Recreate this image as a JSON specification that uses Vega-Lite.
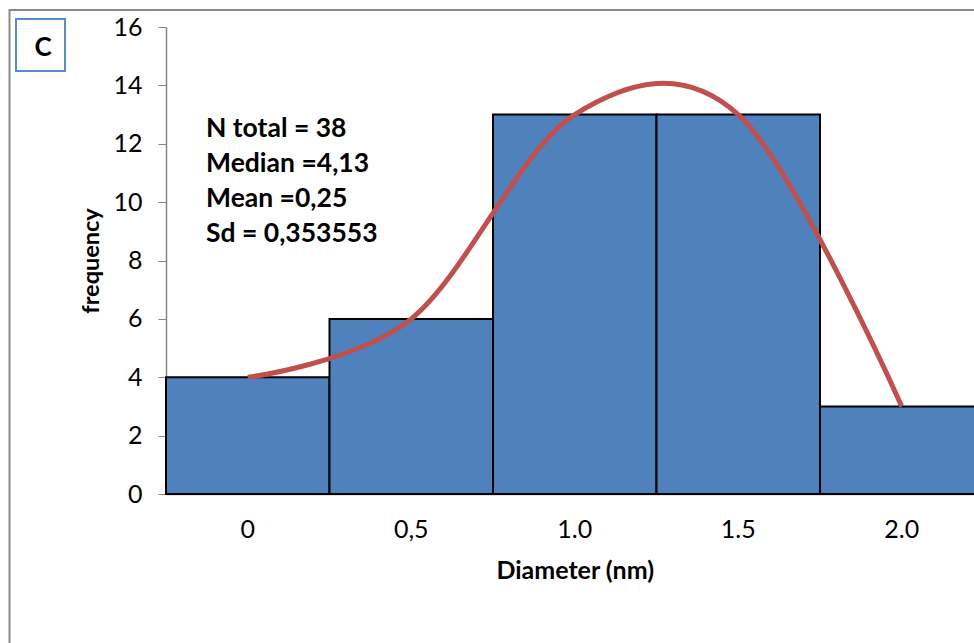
{
  "$schema": "https://vega.github.io/schema/vega-lite/v6.json",
  "autosize": "none",
  "width": 808,
  "height": 467,
  "padding": {"left": 166, "top": 27, "right": 0, "bottom": 149},
  "background": "white",
  "config": {
    "view": {"stroke": null},
    "font": "Lato"
  },
  "datasets": {
    "hist": [
      {"diameter": "0", "frequency": 4},
      {"diameter": "0,5", "frequency": 6},
      {"diameter": "1.0", "frequency": 13},
      {"diameter": "1.5", "frequency": 13},
      {"diameter": "2.0", "frequency": 3}
    ]
  },
  "layer": [
    {
      "data": {"values": [{}]},
      "mark": {"type": "rect", "x": -156.5, "y": -17, "x2": 900, "y2": 700, "fill": null, "stroke": "#8a8a8a", "strokeWidth": 2},
      "encoding": {}
    },
    {
      "data": {"name": "hist"},
      "mark": {"type": "bar", "color": "#4F81BD", "stroke": "#000000", "strokeWidth": 2},
      "encoding": {
        "x": {
          "field": "diameter",
          "type": "ordinal",
          "sort": ["0", "0,5", "1.0", "1.5", "2.0"],
          "scale": {"type": "band", "range": [0, 817.5], "paddingInner": 0, "paddingOuter": 0},
          "axis": {
            "title": "Diameter (nm)",
            "labelAngle": 0,
            "labelFontSize": 25,
            "labelColor": "#000000",
            "labelPadding": 23,
            "ticks": false,
            "domainColor": "#868686",
            "domainWidth": 1.5,
            "titleFontSize": 25,
            "titleFontWeight": "bold",
            "titleColor": "#000000",
            "titlePadding": 16
          }
        },
        "y": {
          "field": "frequency",
          "type": "quantitative",
          "scale": {"domain": [0, 16], "nice": false},
          "axis": {
            "title": "frequency",
            "values": [0, 2, 4, 6, 8, 10, 12, 14, 16],
            "grid": false,
            "labelFontSize": 25,
            "labelColor": "#000000",
            "labelPadding": 16,
            "tickSize": 8,
            "tickColor": "#868686",
            "domainColor": "#868686",
            "domainWidth": 1.5,
            "titleFontSize": 23.5,
            "titleFontWeight": "bold",
            "titleColor": "#000000",
            "titlePadding": 9
          }
        }
      }
    },
    {
      "data": {"name": "hist"},
      "mark": {"type": "line", "interpolate": "cardinal", "tension": 0, "color": "#C0504D", "strokeWidth": 5},
      "encoding": {
        "x": {"field": "diameter", "type": "ordinal", "sort": ["0", "0,5", "1.0", "1.5", "2.0"]},
        "y": {"field": "frequency", "type": "quantitative"}
      }
    },
    {
      "data": {"values": [{}]},
      "mark": {"type": "rect", "x": -150, "y": -8, "x2": -101, "y2": 44, "fill": "white", "stroke": "#5B8BC9", "strokeWidth": 2},
      "encoding": {}
    },
    {
      "data": {"values": [{}]},
      "mark": {"type": "text", "text": "C", "x": -123, "y": 21, "align": "center", "baseline": "middle", "fontSize": 26, "fontWeight": "bold", "color": "#000000"},
      "encoding": {}
    },
    {
      "data": {"values": [{}]},
      "mark": {
        "type": "text",
        "text": ["N total = 38", "Median =4,13", "Mean =0,25", "Sd = 0,353553"],
        "x": 40,
        "y": 110,
        "align": "left",
        "baseline": "alphabetic",
        "lineHeight": 35,
        "fontSize": 26.5,
        "fontWeight": "bold",
        "color": "#000000"
      },
      "encoding": {}
    }
  ]
}
